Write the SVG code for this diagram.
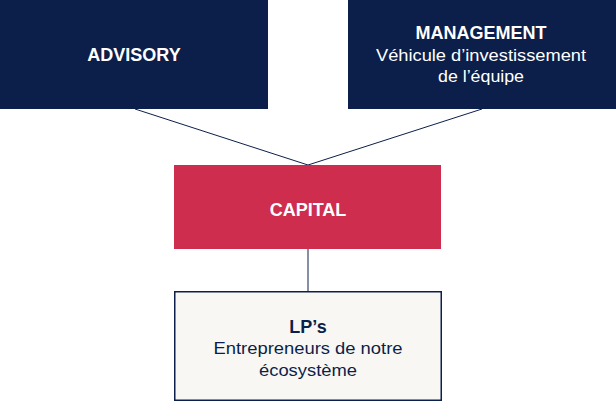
<svg xmlns="http://www.w3.org/2000/svg" width="616" height="401" viewBox="0 0 616 401">
<style>
.navy{fill:#0b1f4a}
.red{fill:#cf2d4e}
.lp{fill:#f9f7f3;stroke:#0b1f4a;stroke-width:1.5}
.t{font-family:"Liberation Sans",Arial,sans-serif;text-anchor:middle}
.h{font-size:18px;font-weight:bold}
.s{font-size:16px}
.w{fill:#ffffff}
.d{fill:#0b1f4a}
.c{stroke:#0b1f4a;stroke-width:1;fill:none}
</style>
<rect width="616" height="401" fill="#ffffff"/>
<g id="connectors">
<line class="c" x1="135" y1="109" x2="308" y2="165"/>
<line class="c" x1="482" y1="109" x2="308" y2="165"/>
<line class="c" x1="308" y1="249" x2="308" y2="291"/>
</g>
<g id="advisory">
<rect class="navy" x="0" y="0" width="268" height="109"/>
<text class="t h w" x="134" y="61">ADVISORY</text>
</g>
<g id="management">
<rect class="navy" x="348" y="0" width="268" height="109"/>
<text class="t h w" x="481" y="39">MANAGEMENT</text>
<text class="t s w" x="481" y="61" textLength="210" lengthAdjust="spacingAndGlyphs">Véhicule d’investissement</text>
<text class="t s w" x="481" y="82" textLength="86" lengthAdjust="spacingAndGlyphs">de l’équipe</text>
</g>
<g id="capital">
<rect class="red" x="174" y="165" width="267" height="84"/>
<text class="t h w" x="308" y="216">CAPITAL</text>
</g>
<g id="lps">
<rect class="lp" x="174.75" y="291.75" width="266.5" height="108.5"/>
<text class="t h d" x="308" y="333">LP’s</text>
<text class="t s d" x="308" y="354" textLength="189" lengthAdjust="spacingAndGlyphs">Entrepreneurs de notre</text>
<text class="t s d" x="308" y="376" textLength="98" lengthAdjust="spacingAndGlyphs">écosystème</text>
</g>
</svg>
